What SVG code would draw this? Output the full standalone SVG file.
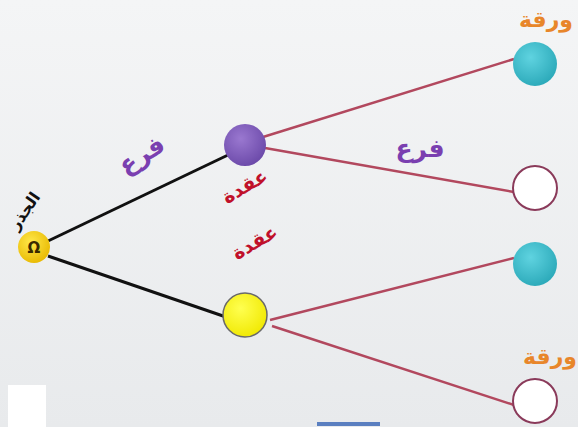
<svg xmlns="http://www.w3.org/2000/svg" width="578" height="427" viewBox="0 0 578 427">
<defs>
<linearGradient id="bg" x1="0" y1="0" x2="0" y2="1"><stop offset="0" stop-color="#f4f5f6"/><stop offset="1" stop-color="#e8eaec"/></linearGradient>
<radialGradient id="gold" cx="0.4" cy="0.35" r="0.7"><stop offset="0" stop-color="#ffe84a"/><stop offset="1" stop-color="#e8b800"/></radialGradient>
<radialGradient id="purple" cx="0.4" cy="0.35" r="0.7"><stop offset="0" stop-color="#9a78d0"/><stop offset="1" stop-color="#6a48a8"/></radialGradient>
<radialGradient id="teal" cx="0.4" cy="0.35" r="0.7"><stop offset="0" stop-color="#5fd3e0"/><stop offset="1" stop-color="#2aa8b8"/></radialGradient>
<radialGradient id="yel" cx="0.4" cy="0.35" r="0.7"><stop offset="0" stop-color="#ffff50"/><stop offset="1" stop-color="#f0e800"/></radialGradient>
</defs>
<style>
.blk{stroke:#111;stroke-width:3;fill:none}
.pk{stroke:#b2485e;stroke-width:2.5;fill:none}
.t{font-family:"DejaVu Sans",sans-serif;font-weight:bold}
.br{fill:#7a3fb0;font-size:25px}
.nd{fill:#c0102a;font-size:19px}
.lf{fill:#e8862a;font-size:22px}
.wh{fill:#fff;stroke:#8a3a5a;stroke-width:2}
</style>
<rect width="578" height="427" fill="url(#bg)"/>
<rect x="8" y="385" width="38" height="42" fill="#ffffff"/>
<rect x="317" y="422" width="63" height="4" fill="#5a7fc0"/>
<g id="connectors">
<line class="blk" x1="48" y1="241" x2="228" y2="155"/>
<line class="blk" x1="48" y1="256" x2="226" y2="317"/>
<line class="pk" x1="263" y1="137" x2="514" y2="59"/>
<line class="pk" x1="265" y1="148" x2="514" y2="192"/>
<line class="pk" x1="270" y1="320" x2="514" y2="258"/>
<line class="pk" x1="272" y1="326" x2="514" y2="405"/>
</g>
<g id="root">
<circle cx="34" cy="247" r="16" fill="url(#gold)"/>
<text class="t" x="34" y="253" font-size="15" text-anchor="middle" fill="#3a2a00">Ω</text>
<text class="t" x="29" y="214" font-size="16" fill="#111" text-anchor="middle" transform="rotate(-55 29 214)">الجذر</text>
</g>
<g id="node1">
<circle cx="245" cy="145" r="21" fill="url(#purple)"/>
<text class="t nd" x="248" y="192" text-anchor="middle" transform="rotate(-30 248 192)">عقدة</text>
</g>
<g id="node2">
<circle cx="245" cy="315" r="22" fill="url(#yel)" stroke="#6a6a6a" stroke-width="1.5"/>
<text class="t nd" x="258" y="248" text-anchor="middle" transform="rotate(-30 258 248)">عقدة</text>
</g>
<g id="leaf1">
<circle cx="535" cy="64" r="22" fill="url(#teal)"/>
<text class="t lf" x="546" y="27" text-anchor="middle">ورقة</text>
</g>
<g id="leaf2"><circle cx="535" cy="188" r="22" class="wh"/></g>
<g id="leaf3"><circle cx="535" cy="264" r="22" fill="url(#teal)"/></g>
<g id="leaf4">
<circle cx="535" cy="401" r="22" class="wh"/>
<text class="t lf" x="550" y="364" text-anchor="middle">ورقة</text>
</g>
<text class="t br" x="146" y="162" text-anchor="middle" transform="rotate(-32 146 162)">فرع</text>
<text class="t br" x="420" y="157" text-anchor="middle">فرع</text>
</svg>
